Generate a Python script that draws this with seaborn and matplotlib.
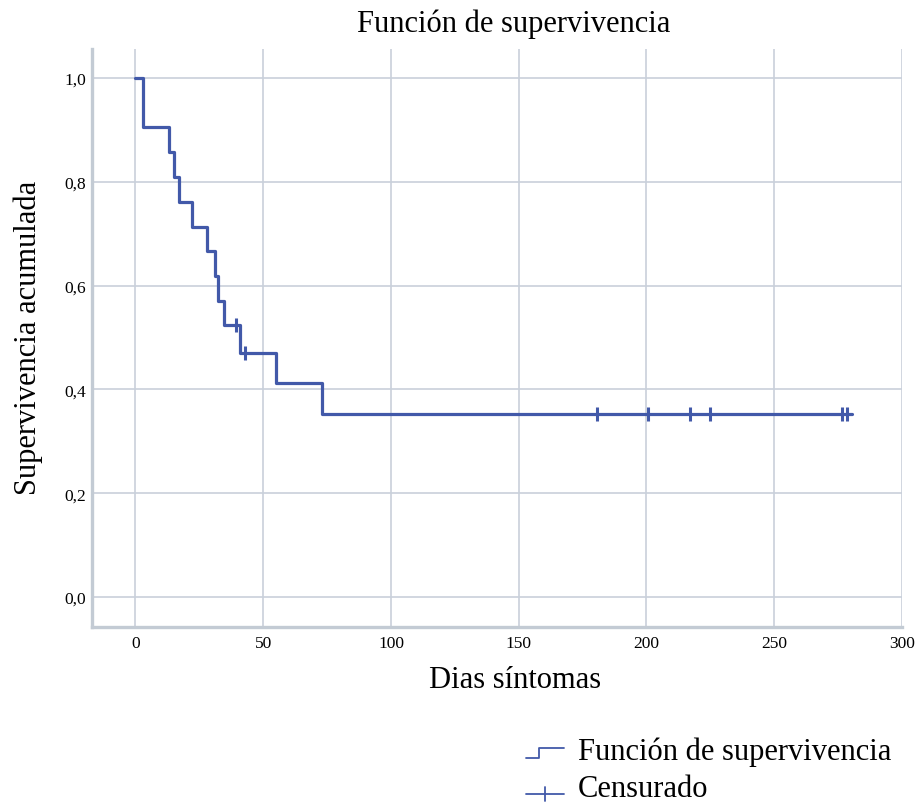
import matplotlib
matplotlib.use("Agg")
import matplotlib.pyplot as plt
from matplotlib.lines import Line2D
from matplotlib.legend_handler import HandlerBase
import seaborn as sns
import pandas as pd

# ---- data ----
step_times = [0, 3, 13, 15, 17, 22, 28, 31, 32.5, 34.5, 41, 55, 73, 280.5]
step_surv = [1.0, 0.905, 0.857, 0.810, 0.762, 0.714, 0.667, 0.619, 0.571, 0.524,
             0.471, 0.412, 0.353, 0.353]
censor_times = [39.5, 43, 180.5, 200.5, 217, 225, 276.5, 278.5]
censor_surv = [0.524, 0.471, 0.353, 0.353, 0.353, 0.353, 0.353, 0.353]

x_ticks = [0, 50, 100, 150, 200, 250, 300]
y_ticks = [0.0, 0.2, 0.4, 0.6, 0.8, 1.0]
y_tick_labels = ["0,0", "0,2", "0,4", "0,6", "0,8", "1,0"]

title = "Función de supervivencia"
x_label = "Dias síntomas"
y_label = "Supervivencia acumulada"
legend_labels = ["Función de supervivencia", "Censurado"]

LINE = "#4259a9"
GRID = "#c9d0da"
SPINE = "#c3cbd4"

sns.set_theme(style="whitegrid")
plt.rcParams["font.family"] = ["Liberation Serif", "DejaVu Serif"]
plt.rcParams["text.color"] = "black"

fig = plt.figure(figsize=(9.19, 8.04), dpi=100)
ax = fig.add_axes([92 / 919, 1 - 627.7 / 804, 810 / 919, 577.7 / 804])

df_steps = pd.DataFrame({"t": step_times, "s": step_surv})
df_cens = pd.DataFrame({"t": censor_times, "s": censor_surv})

sns.lineplot(data=df_steps, x="t", y="s", ax=ax, color=LINE, linewidth=2.3,
             drawstyle="steps-post", estimator=None, sort=False, zorder=3)
sns.scatterplot(data=df_cens, x="t", y="s", ax=ax, marker="|", s=110,
                color=LINE, linewidth=2.2, zorder=4)

ax.set_xlim(-17, 300)
ax.set_ylim(-0.057, 1.056)
ax.set_xticks(x_ticks)
ax.set_xticklabels([str(v) for v in x_ticks])
ax.set_yticks(y_ticks)
ax.set_yticklabels(y_tick_labels)
ax.tick_params(axis="x", length=0, labelsize=12.5, colors="black", pad=6)
ax.tick_params(axis="y", length=0, labelsize=12.5, colors="black", pad=4)

ax.grid(True, color=GRID, linewidth=1.2)
ax.set_axisbelow(True)
for side in ["top", "right"]:
    ax.spines[side].set_visible(False)
for side in ["left", "bottom"]:
    ax.spines[side].set_color(SPINE)
    ax.spines[side].set_linewidth(2.4)

ax.set_xlabel(x_label, fontsize=22, color="black")
ax.set_ylabel(y_label, fontsize=22, color="black")
ax.xaxis.set_label_coords(0.522, -0.091)
ax.yaxis.set_label_coords(-0.079, 0.5015)
ax.xaxis.label.set_va("center")
ax.yaxis.label.set_va("center")
ax.set_title(title, fontsize=22, x=0.52, y=1.045, pad=0, va="center", color="black")


class StepHandler(HandlerBase):
    def create_artists(self, legend, orig_handle, xdescent, ydescent,
                       width, height, fontsize, trans):
        x0, x1 = -xdescent, -xdescent + width
        xm = x0 + width * 0.35
        ylo = -ydescent + height * 0.05
        yhi = -ydescent + height * 0.55
        ln = Line2D([x0, xm, xm, x1], [ylo, ylo, yhi, yhi],
                    color=LINE, linewidth=1.3, transform=trans)
        return [ln]


class CensorHandler(HandlerBase):
    def create_artists(self, legend, orig_handle, xdescent, ydescent,
                       width, height, fontsize, trans):
        x0, x1 = -xdescent, -xdescent + width
        ym = -ydescent + height * 0.1
        xm = (x0 + x1) / 2
        h = Line2D([x0, x1], [ym, ym], color=LINE, linewidth=1.3, transform=trans)
        v = Line2D([xm, xm], [ym - height * 0.35, ym + height * 0.35],
                   color=LINE, linewidth=1.3, transform=trans)
        return [h, v]


step_handle = Line2D([], [], color=LINE)
cens_handle = Line2D([], [], color=LINE, marker="|")
leg = fig.legend([step_handle, cens_handle], legend_labels,
                 handler_map={step_handle: StepHandler(), cens_handle: CensorHandler()},
                 loc="upper left", bbox_to_anchor=(526 / 919, 1 - 738 / 804),
                 frameon=False, fontsize=22, handlelength=1.25, handletextpad=0.45,
                 labelspacing=0.25, borderaxespad=0, borderpad=0)
for t in leg.get_texts():
    t.set_color("black")

fig.savefig("out.png", dpi=100)
